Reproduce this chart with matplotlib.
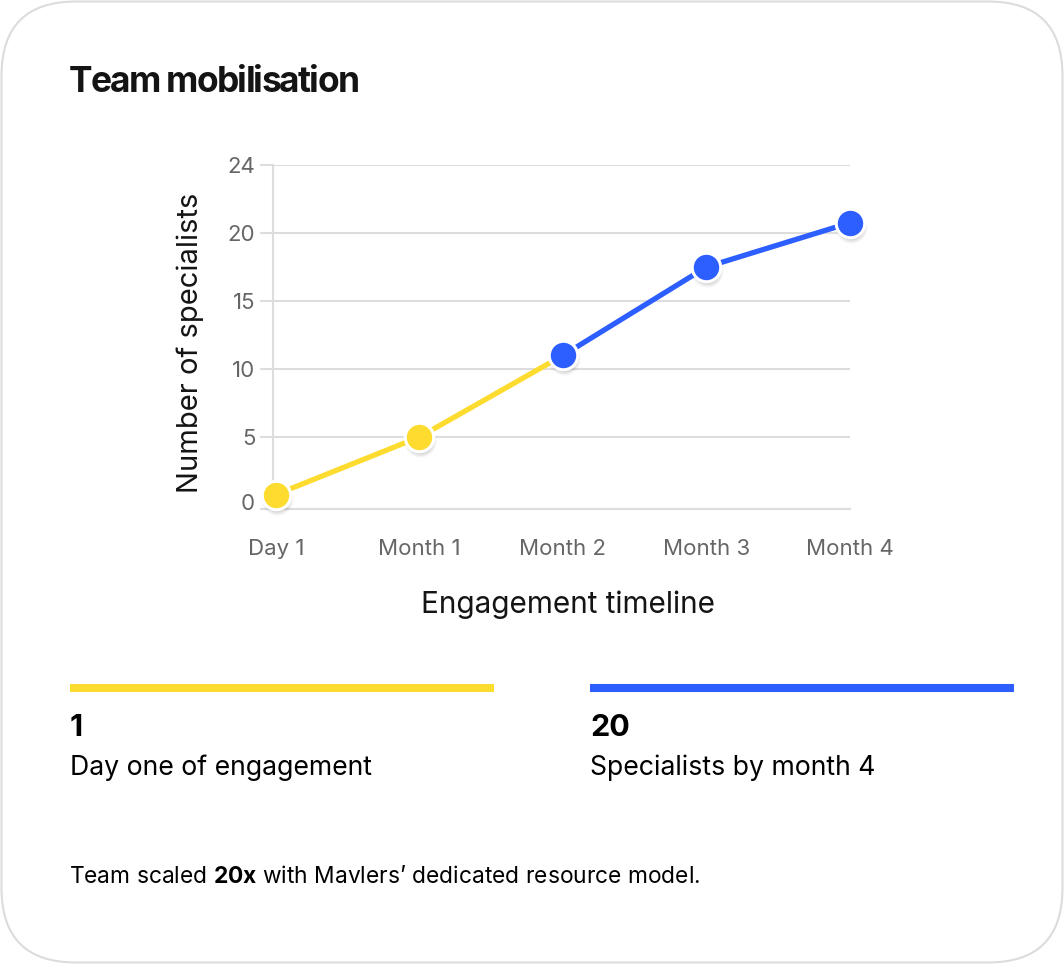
import numpy as np
import matplotlib
matplotlib.use("Agg")
import matplotlib.pyplot as plt
from matplotlib import transforms
from matplotlib.patches import FancyBboxPatch

plt.rcParams['font.family'] = ['Inter', 'DejaVu Sans']
plt.rcParams['mathtext.fontset'] = 'custom'
plt.rcParams['mathtext.rm'] = 'Inter'
plt.rcParams['mathtext.bf'] = 'Inter:bold'

# data
stages = ['Day 1', 'Month 1', 'Month 2', 'Month 3', 'Month 4']
specialists = [1, 5, 11, 17.5, 20.6]
split_at = 2  # yellow up to Month 2, blue after
y_ticks = [0, 5, 10, 15, 20, 24]
y_tick_pos = [0, 72, 140, 208, 276, 344]  # uneven spacing of the original axis

YELLOW = '#FDDC2F'
BLUE = '#2D5EFF'
GRID = '#DDDDDD'
INK = '#141414'
GREY = '#666666'

W, H, DPI = 1064, 964, 100
fig = plt.figure(figsize=(W / DPI, H / DPI), dpi=DPI)
fig.patch.set_facecolor('white')
renderer = fig.canvas.get_renderer()


def tracked_text(x_px, y_px, s, track_px, **kw):
    # draws s one glyph at a time with tighter letter spacing
    probe = fig.text(0, 0, '', **kw)
    for i, ch in enumerate(s):
        if ch == ' ':
            continue
        probe.set_text(s[:i + 1])
        right = probe.get_window_extent(renderer).width
        fig.text((x_px + right - i * track_px) / W, 1 - y_px / H, ch,
                 ha='right', va='baseline', **kw)
    probe.remove()


# card outline
card = FancyBboxPatch((1.5 / W, 1.5 / H), (W - 3) / W, (H - 3) / H,
                      boxstyle='round,pad=0,rounding_size=0.07',
                      transform=fig.transFigure, facecolor='none',
                      edgecolor='#DCDCDC', linewidth=1.5,
                      mutation_aspect=W / H, zorder=-5)
fig.patches.append(card)

tracked_text(69, 92, 'Team mobilisation', 1.75, fontsize=25.5,
             fontweight='bold', color=INK)

ax = fig.add_axes([273 / W, 455 / H, (850 - 273) / W, 344 / H])
ax.set_facecolor('none')

ext_t = [-100] + y_ticks + [100]
ext_p = [-100 * 72 / 5] + y_tick_pos + [344 + 76 * 68 / 4]


def fwd(v):
    return np.interp(v, ext_t, ext_p)


def inv(p):
    return np.interp(p, ext_p, ext_t)


ax.set_yscale('function', functions=(fwd, inv))
ax.set_ylim(0, 24)
x = np.arange(len(stages))
ax.set_xlim(-0.02, len(stages) - 1)

ax.set_yticks(y_ticks)
ax.set_xticks(x)
ax.set_xticklabels(stages)
ax.grid(axis='y', color=GRID, linewidth=1.5)
ax.set_axisbelow(True)
for s in ['top', 'right']:
    ax.spines[s].set_visible(False)
ax.spines['left'].set_color(GRID)
ax.spines['left'].set_linewidth(1.5)
ax.spines['bottom'].set_color(GRID)
ax.spines['bottom'].set_linewidth(1.5)
ax.tick_params(axis='y', length=9.4, width=1.5, color=GRID, pad=3.4,
               labelsize=16, labelcolor=GREY)
ax.tick_params(axis='x', length=0, pad=21.5, labelsize=16, labelcolor=GREY)
lab0 = ax.get_yticklabels()[0]
lab0.set_transform(lab0.get_transform() +
                   transforms.ScaledTranslation(0, 7 / DPI, fig.dpi_scale_trans))

ax.set_xlabel('Engagement timeline', fontsize=21.4, color=INK, labelpad=23)
ax.set_ylabel('Number of specialists', fontsize=21, color=INK, labelpad=17)
ax.xaxis.label.set_x((568 - 273) / 577)
ax.yaxis.label.set_y(0.5 - 6 / 344)

# lines
ax.plot(x[:split_at + 1], specialists[:split_at + 1], color=YELLOW, lw=3.8,
        solid_capstyle='round', zorder=3, clip_on=False)
ax.plot(x[split_at:], specialists[split_at:], color=BLUE, lw=3.8,
        solid_capstyle='round', zorder=3, clip_on=False)

# soft marker shadows
shadow = transforms.offset_copy(ax.transData, fig=fig, x=1, y=-4, units='dots')
for size, alpha in [(32, 0.04), (29, 0.05), (26, 0.07)]:
    ax.plot(x, specialists, 'o', ms=size * 0.72, color='black', alpha=alpha,
            mec='none', transform=shadow, zorder=4, clip_on=False)

colors = [YELLOW if i < split_at else BLUE for i in range(len(stages))]
for xi, yi, c in zip(x, specialists, colors):
    ax.plot(xi, yi, 'o', ms=20.5, color=c, mec='white', mew=2.2, zorder=5,
            clip_on=False)

# summary stats
fig.add_artist(plt.Line2D([70 / W, 494 / W], [1 - 688 / H] * 2, color=YELLOW,
                          lw=5.8, solid_capstyle='butt'))
fig.add_artist(plt.Line2D([590 / W, 1014 / W], [1 - 688 / H] * 2, color=BLUE,
                          lw=5.8, solid_capstyle='butt'))
fig.text(70 / W, 1 - 736 / H, '1', fontsize=22, fontweight='bold', color='black',
         va='baseline')
fig.text(70 / W, 1 - 775 / H, 'Day one of engagement', fontsize=19.2,
         color='black', va='baseline')
fig.text(590 / W, 1 - 736 / H, '20', fontsize=22, fontweight='bold', color='black',
         va='baseline')
fig.text(590 / W, 1 - 775 / H, 'Specialists by month 4', fontsize=19.2,
         color='black', va='baseline')

fig.text(69 / W, 1 - 883 / H,
         "Team scaled $\\mathbf{20x}$ with Mavlers\u2019 dedicated resource model.",
         fontsize=16.4, color='black', va='baseline')

fig.savefig('out.png', dpi=DPI, facecolor='white')
